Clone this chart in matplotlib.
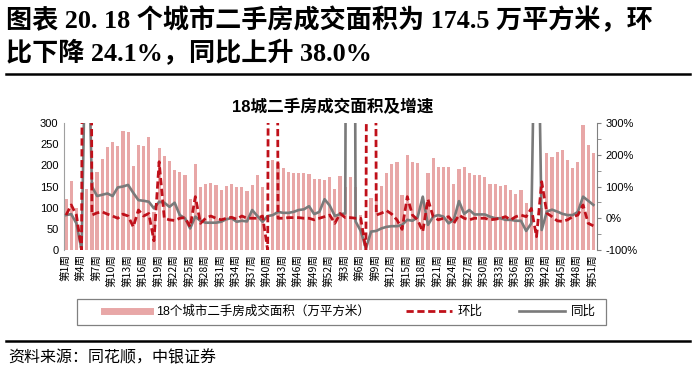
import matplotlib
matplotlib.use("Agg")
import matplotlib.pyplot as plt
from matplotlib.lines import Line2D
from matplotlib.patches import Rectangle
import numpy as np

plt.rcParams['font.family'] = ['Liberation Sans', 'Noto Sans CJK SC', 'DejaVu Sans']
plt.rcParams['axes.unicode_minus'] = True

# ---------------- data ----------------
# weeks: year 1 weeks 1..52, year 2 weeks 1..51
week_numbers = list(range(1, 53)) + list(range(1, 52))

area = [120, 163, 100, 0, 143, 160, 185, 215, 243, 256, 245, 280, 278, 199, 248, 245, 267, 90,
        242, 222, 211, 189, 185, 177, 120, 202, 150, 156, 158, 154, 142, 151, 155, 150, 148, 140,
        154, 177, 148, 0, 212, 205, 193, 185, 181, 183, 181, 180, 168, 168, 165, 173,
        143, 175, 150, 173, 150, 83, 0, 122, 135, 151, 181, 204, 209, 130, 224, 209, 205, 126,
        183, 218, 195, 196, 196, 155, 191, 196, 181, 176, 177, 173, 155, 155, 151, 153, 142, 133,
        142, 110, 95, 45, 100, 228, 220, 232, 236, 213, 193, 209, 295, 248, 228]

mom = [10, 42, 10, -100, 5000, 10, 17, 20, 13, 7, 0, 13, 7, -27, 26, 7, 15, -71, 178, 0, -5, -7,
       0, 2, -27, 68, -16, 0, 7, 0, -5, 0, 3, -3, 7, 0, 0, 0, 7, -100, 5000, 0, 0, 2, 2, 2, 0, 0,
       -5, 0, 5, 10,
       -16, 15, 2, 2, 0, 0, -100, 5000, 10, 16, 24, 13, -5, -35, 68, 10, -5, -42, 60, 5, -5, 0, 5,
       -16, 10, 0, -5, 0, 0, 0, -5, -3, 0, 5, -5, 5, 10, 5, 31, -58, 115, 16, 5, -8, -10, -5, 5,
       10, 42, -16, -24]

yoy = [10, 13, -16, -100, 800, 100, 70, 74, 78, 70, 97, 100, 105, 80, 57, 55, 52, 31, 52, 49, 36,
       49, 10, 0, -32, 5, -8, -14, -14, -14, -11, -3, 0, -11, -8, -10, 26, 7, -11, 7, 10, 20, 17,
       17, 20, 26, 28, 38, 13, 20, 60, 40,
       7, 13, 15, 5000, -10, -40, -95, -42, -40, -32, -27, -25, -25, -21, -5, -8, 3, 68, -21, 5,
       10, 5, -16, -5, 54, 14, 26, 12, 12, 12, 5, 0, 0, -5, -5, -8, -8, -40, -16, 1000, -37, 21,
       27, 21, 14, 10, 10, 20, 68, 55, 42]

categories = ["第%d周" % w for w in week_numbers]

title_text = "图表 20. 18 个城市二手房成交面积为 174.5 万平方米，环\n比下降 24.1%，同比上升 38.0%"
chart_title = "18城二手房成交面积及增速"
legend_labels = ["18个城市二手房成交面积（万平方米）", "环比", "同比"]
source_text = "资料来源：同花顺，中银证券"

# ---------------- figure ----------------
W, H = 696, 381
fig = plt.figure(figsize=(W / 100, H / 100), dpi=100)

def fx(px):
    return px / W

def fy(py):
    return 1 - py / H

ax_l, ax_r, ax_t, ax_b = 64, 597, 123, 250
ax = fig.add_axes([fx(ax_l), fy(ax_b), fx(ax_r - ax_l), (ax_b - ax_t) / H])
ax2 = ax.twinx()

x = np.arange(len(categories))
bar_color = '#E8A7A7'
red = '#C0101A'
gray = '#7A7A7A'
dash = (0, (2.6, 1.3))

ax.bar(x, area, width=0.62, color=bar_color, zorder=1)
ax.set_ylim(0, 300)
ax.set_xlim(-0.4, len(categories) - 0.3)
ax.set_yticks(np.arange(0, 301, 50))
ax.tick_params(axis='y', labelsize=8, length=0, pad=4, colors='black')
ax.set_xticks(x[::3])
ax.set_xticklabels(categories[::3], rotation=90, fontsize=7.6, family=['Noto Sans CJK SC'])
ax.tick_params(axis='x', length=0, pad=3)

ax2.plot(x, mom, color=red, lw=2.0, linestyle=dash, zorder=3)
ax2.plot(x, yoy, color=gray, lw=1.9, zorder=2)
ax2.set_ylim(-100, 300)
ax2.set_yticks(np.arange(-100, 301, 100))
ax2.set_yticks(np.arange(-100, 301, 50), minor=True)
ax2.set_yticklabels(["%d%%" % v for v in np.arange(-100, 301, 100)])
ax2.tick_params(axis='y', which='major', labelsize=8, length=3, color='#808080', pad=3)
ax2.tick_params(axis='y', which='minor', length=3, color='#808080')

for a in (ax, ax2):
    a.spines['top'].set_visible(False)
    a.spines['bottom'].set_visible(False)
    a.spines['left'].set_color('#A0A0A0')
    a.spines['right'].set_color('#808080')
ax.spines['right'].set_visible(False)
ax2.spines['left'].set_visible(False)
ax.set_zorder(ax2.get_zorder() - 1)
ax2.patch.set_visible(False)
ax.patch.set_visible(False)

# chart title
fig.text(fx(333), fy(107), chart_title, ha='center', va='center', fontsize=12,
         fontweight='bold', family=['Liberation Sans', 'Noto Sans CJK SC'])

# heading
fig.text(fx(6), fy(36), title_text, ha='left', va='center', fontsize=18.8, fontweight='bold',
         family=['Liberation Serif', 'Noto Sans CJK SC'], linespacing=1.3)
fig.add_artist(Line2D([fx(6), fx(690)], [fy(74), fy(74)], color='black', lw=1.8))

# legend (frame drawn separately)
fig.add_artist(Rectangle((fx(77), fy(325)), fx(606 - 77), (325 - 299) / H,
                         transform=fig.transFigure, facecolor='white', edgecolor='#808080',
                         lw=0.9))
handles = [Line2D([], [], color=bar_color, lw=5),
           Line2D([], [], color=red, lw=2.0, linestyle=dash),
           Line2D([], [], color=gray, lw=1.9)]
leg = fig.legend(handles, legend_labels, loc='center left', bbox_to_anchor=(fx(104), fy(312)),
                 ncol=3, frameon=False, borderpad=0, borderaxespad=0,
                 handlelength=3.7, columnspacing=2.9, handletextpad=0.45,
                 prop={'family': ['Liberation Sans', 'Noto Sans CJK SC'], 'size': 9})

fig.add_artist(Line2D([fx(6), fx(690)], [fy(341), fy(341)], color='black', lw=1.8))
fig.text(fx(8), fy(358), source_text, ha='left', va='center', fontsize=11.5,
         family=['Noto Sans CJK SC'], style='italic')

fig.savefig('out.png', dpi=100)
